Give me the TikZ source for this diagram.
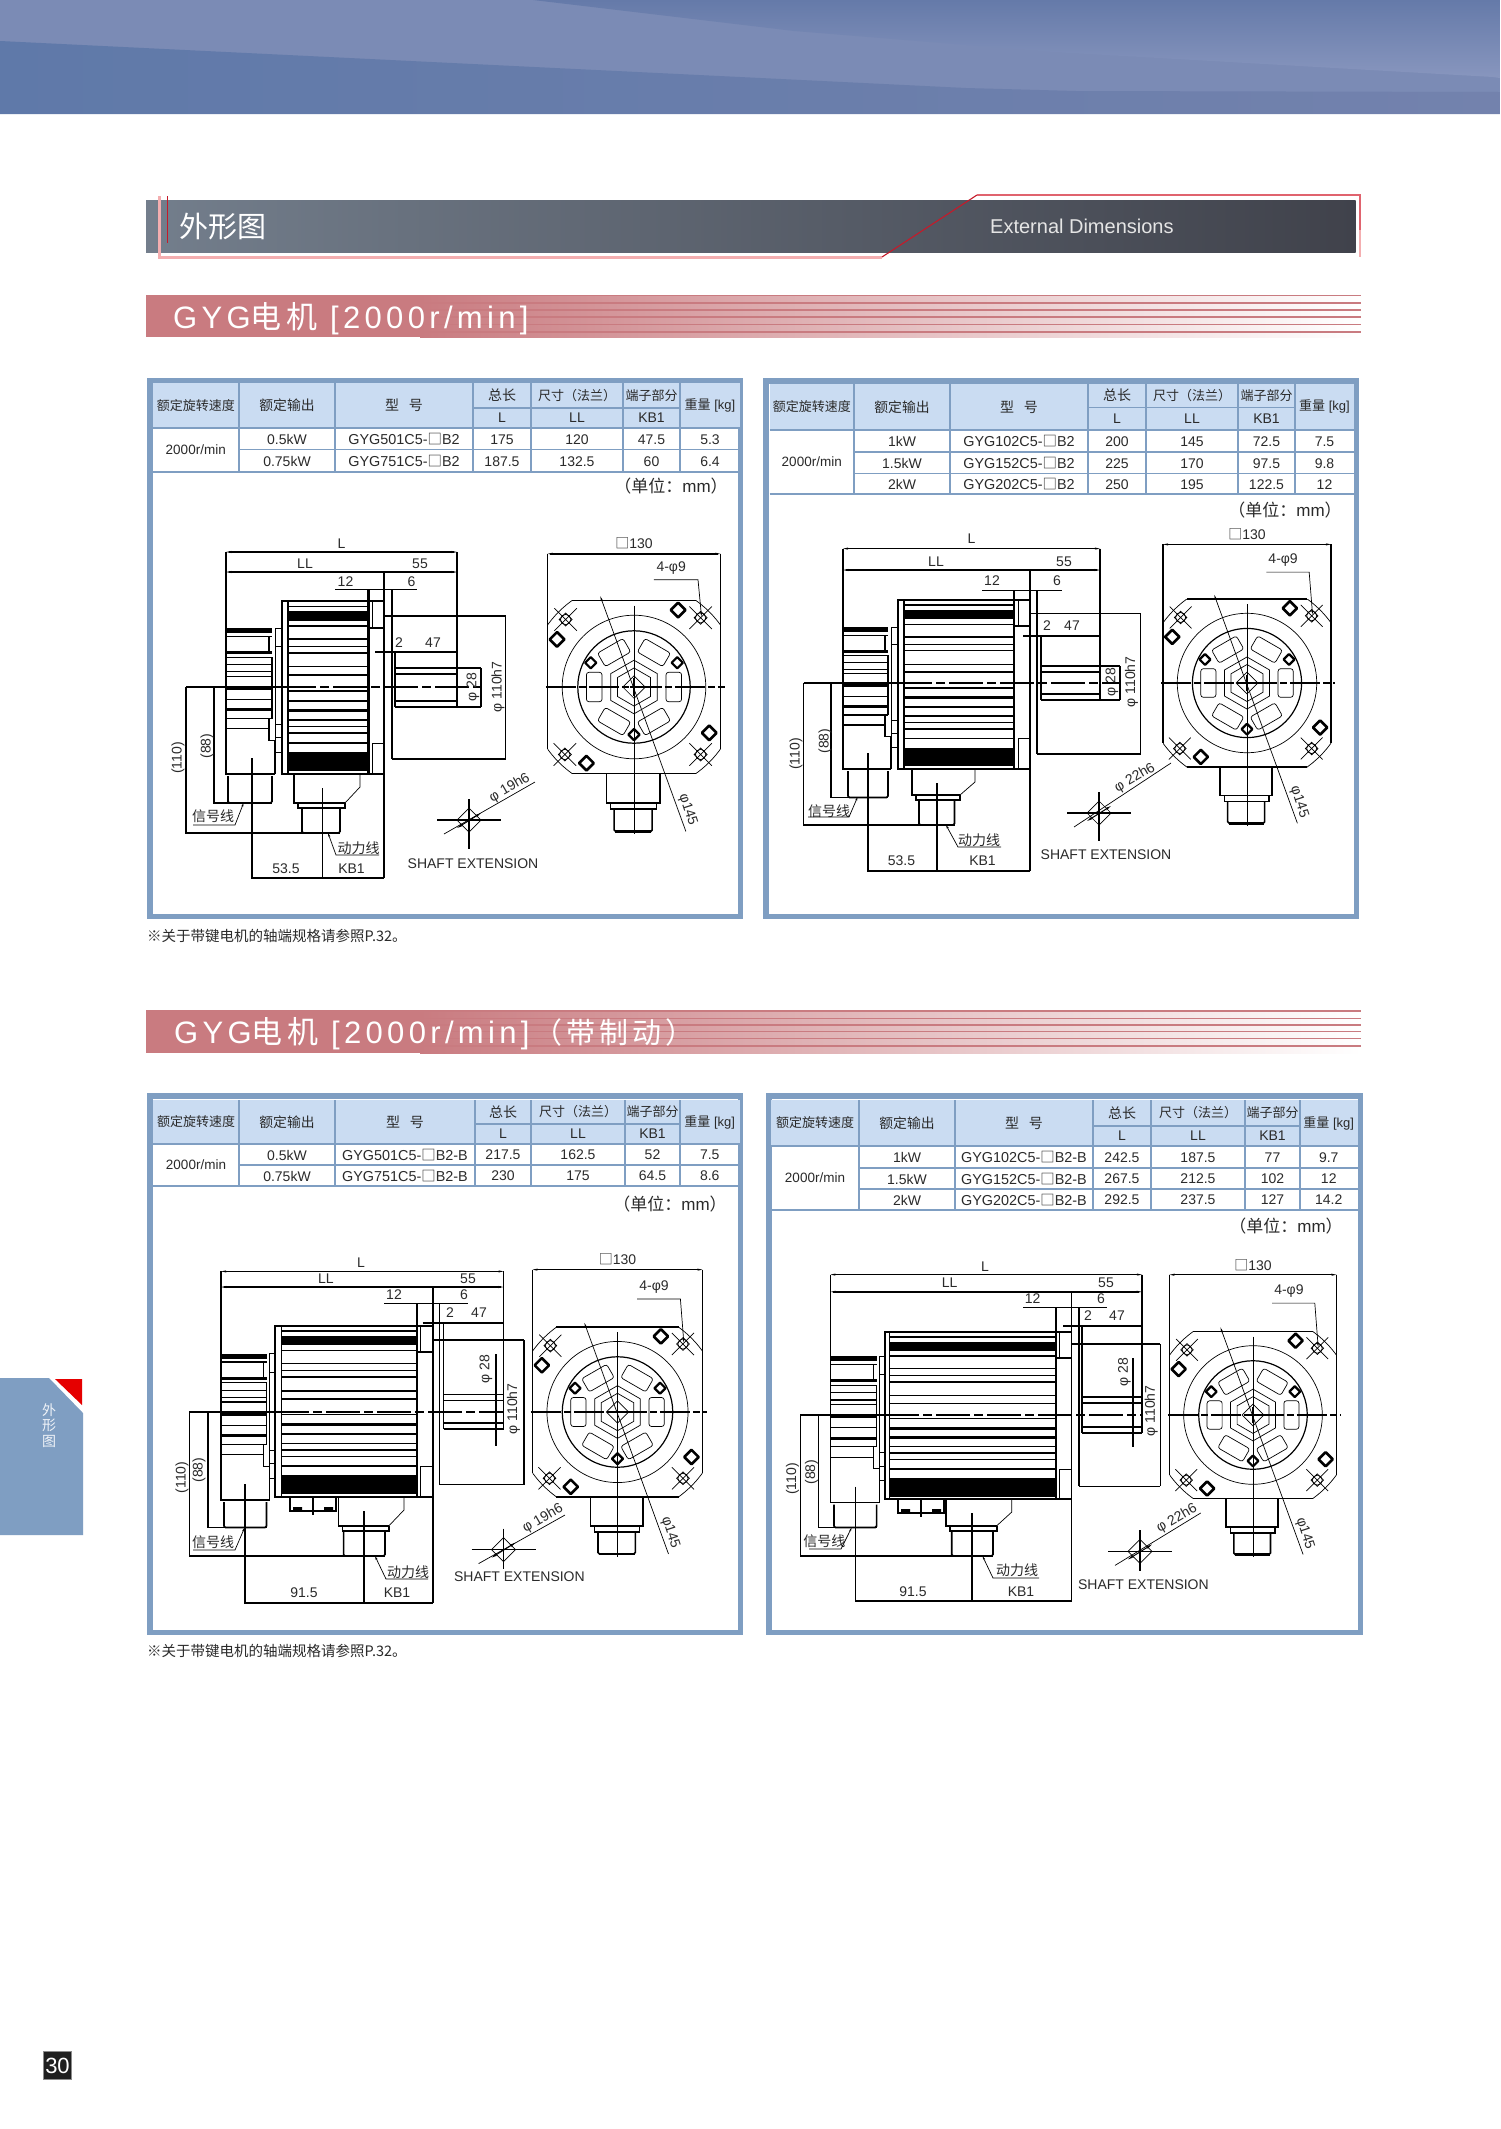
\documentclass[tikz,border=0pt]{standalone}
\usepackage{fontspec}
\setmainfont{Liberation Sans}
\newfontfamily\cjk{Noto Sans CJK SC}
\newfontfamily\ssans[LetterSpace=14]{Liberation Sans}
\newfontfamily\scjk[LetterSpace=14]{Noto Sans CJK SC}
\usetikzlibrary{arrows.meta}
\definecolor{frameblue}{HTML}{7F9EC2}
\definecolor{headblue}{HTML}{CADCF2}
\definecolor{ink}{HTML}{2A2A2A}
\definecolor{rosebar}{HTML}{C97B80}
\definecolor{hband}{HTML}{7B8BB5}
\definecolor{hlowa}{HTML}{5F79A9}
\definecolor{hlowb}{HTML}{7382AD}
\definecolor{hupa}{HTML}{657AA9}
\definecolor{hupb}{HTML}{8896BE}
\definecolor{barl}{HTML}{737E8C}
\definecolor{barm}{HTML}{6F7A85}
\definecolor{barr}{HTML}{40424B}
\definecolor{pinkl}{HTML}{F4AEB0}
\definecolor{redl}{HTML}{E0636E}
\definecolor{redd}{HTML}{C51A2A}
\newcounter{tn}
\newcommand\lbl[3][]{\stepcounter{tn}\node[lab,#1] (t\arabic{tn}) at (#2) {#3};}
\tikzset{
 lab/.style={inner sep=0pt,text=ink,font=\fontsize{14}{14}\selectfont},
 hd/.style={font=\fontsize{13}{14}\selectfont},
 thk/.style={line width=1.6pt,black},
 thn/.style={line width=.7pt,black},
 dimline/.style={line width=1.5pt,black,{Stealth[length=5pt,width=2pt]}-{Stealth[length=5pt,width=2pt]}},
 tline/.style={line width=1.5pt,frameblue},
 panel/.style={line width=5.5pt,draw=frameblue,fill=white},
 unit/.style={font=\fontsize{17}{18}\selectfont},
}
\pgfkeys{/m/.cd,
 xa/.store in=\mxa,xb/.store in=\mxb,xc/.store in=\mxc,xd/.store in=\mxd,xe/.store in=\mxe,
 xf/.store in=\mxf,xg/.store in=\mxg,xh/.store in=\mxh,xs/.store in=\mxs,xt/.store in=\mxt,
 xk/.store in=\mxk,xl/.store in=\mxl,xm/.store in=\mxm,xn/.store in=\mxn,xp/.store in=\mxp,
 xq/.store in=\mxq,xr/.store in=\mxr,xu/.store in=\mxu,xv/.store in=\mxv,xw/.store in=\mxw,
 xy/.store in=\mxy,xz/.store in=\mxz,xsr/.store in=\mxsr,xd28/.store in=\mxdt,
 yc/.store in=\myc,yt/.store in=\myt,yb/.store in=\myb,ye/.store in=\mye,yeb/.store in=\myeb,
 yL/.store in=\myL,yLL/.store in=\myLL,y12/.store in=\mytw,y47/.store in=\myfs,
 yst/.store in=\myst,ysb/.store in=\mysb,yqt/.store in=\myqt,yqb/.store in=\myqb,
 ysp/.store in=\mysp,ypb/.store in=\mypb,ypl/.store in=\mypl,yd/.store in=\myd,
 ydt/.store in=\mydt,ydb/.store in=\mydb,
 ca/.store in=\tca,cb/.store in=\tcb,cc/.store in=\tcc,cd/.store in=\tcd,ce/.store in=\tce,
 cf/.store in=\tcf,cg/.store in=\tcg,ch/.store in=\tch,
 ra/.store in=\tra,rb/.store in=\trb,rc/.store in=\trc,rd/.store in=\trd}
% ---------- table ----------
\newcommand\tablehead{%
 \fill[headblue] (\tca,\tra) rectangle (\tch,\trc);
 \foreach \v in {\tcb,\tcc,\tcd,\tce,\tcf,\tcg} {\draw[tline] (\v,\tra) -- (\v,\trd);}
 \draw[tline] (\tcd,\trb) -- (\tcg,\trb);
 \draw[tline] (\tca,\trc) -- (\tch,\trc);
 \draw[tline] (\tca,\trd) -- (\tch,\trd);
 \pgfmathsetmacro\yu{(\tra+\trb)/2}\pgfmathsetmacro\yl{(\trb+\trc)/2}\pgfmathsetmacro\ym{(\tra+\trc)/2}
 \pgfmathsetmacro\xA{(\tca+\tcb)/2}\pgfmathsetmacro\xB{(\tcb+\tcc)/2}\pgfmathsetmacro\xC{(\tcc+\tcd)/2}
 \pgfmathsetmacro\xD{(\tcd+\tce)/2}\pgfmathsetmacro\xE{(\tce+\tcf)/2}\pgfmathsetmacro\xF{(\tcf+\tcg)/2}
 \pgfmathsetmacro\xG{(\tcg+\tch)/2}
 \lbl[hd]{\xA,\ym}{\cjk 额定旋转速度}
 \lbl[hd,font=\fontsize{13.8}{14}\selectfont]{\xB,\ym}{\cjk 额定输出}
 \lbl[hd,font=\fontsize{14}{14}\selectfont]{\xC,\ym}{\cjk 型\hspace{.7em}号}
 \lbl[hd,font=\fontsize{14}{14}\selectfont]{\xD,\yu}{\cjk 总长}
 \lbl[hd]{\xE,\yu}{\cjk 尺寸（法兰）}
 \lbl[hd]{\xF,\yu}{\cjk 端子部分}
 \lbl[hd]{\xG,\ym}{{\cjk 重量} [kg]}
 \lbl{\xD,\yl}{L}\lbl{\xE,\yl}{LL}\lbl{\xF,\yl}{KB1}
 \pgfmathsetmacro\ys{(\trc+\trd)/2}
 \lbl[font=\fontsize{13.5}{14}\selectfont]{\xA,\ys}{2000r/min}
}
\newcommand\trow[8]{% ytop ybot out model L LL KB wt
 \draw[tline] (\tcb,#2) -- (\tch,#2);
 \pgfmathsetmacro\yy{(#1+#2)/2+.5}
 \pgfmathsetmacro\xB{(\tcb+\tcc)/2}\pgfmathsetmacro\xC{(\tcc+\tcd)/2}
 \pgfmathsetmacro\xD{(\tcd+\tce)/2}\pgfmathsetmacro\xE{(\tce+\tcf)/2}\pgfmathsetmacro\xF{(\tcf+\tcg)/2}
 \pgfmathsetmacro\xG{(\tcg+\tch)/2}
 \lbl{\xB,\yy}{#3}\lbl[font=\fontsize{14.4}{14}\selectfont]{\xC,\yy}{#4}\lbl{\xD,\yy}{#5}\lbl{\xE,\yy}{#6}\lbl{\xF,\yy}{#7}\lbl{\xG,\yy}{#8}
}
\newcommand\sqb{{\cjk □}}
% ---------- end view ----------
\newcommand\bolt[2]{\draw[line width=2.6pt,black,rounded corners=.6pt,fill=white] (#1+.085,#2) -- (#1,#2+.085) -- (#1-.085,#2) -- (#1,#2-.085) -- cycle;}
\newcommand\ibolt[2]{\draw[line width=2.2pt,black,rounded corners=.5pt,fill=white] (#1+.065,#2) -- (#1,#2+.065) -- (#1-.065,#2) -- (#1,#2-.065) -- cycle;}
\newcommand\hole[2]{\draw[thn] (#1,#2) circle[radius=.06];
 \draw[thn] (#1-.13,#2-.13) -- (#1+.13,#2+.13) (#1-.13,#2+.13) -- (#1+.13,#2-.13) (#1+.075,#2) -- (#1,#2+.075) -- (#1-.075,#2) -- (#1,#2-.075) -- cycle;}
\newcommand\hexa[1]{\draw[thn] (30:#1) -- (90:#1) -- (150:#1) -- (210:#1) -- (270:#1) -- (330:#1) -- cycle;}
\newcommand\flangeview[5]{%
\begin{scope}[shift={(#1,#2)},x=#3pt,y=-#3pt]
 \begin{scope}\clip (-1,-1) rectangle (1,1);
  \draw[thn] (0,0) circle[radius=1.23];
 \end{scope}
 \draw[thk] (-.72,-1) -- (.72,-1) (-.72,1) -- (.72,1);
 \draw[thk] (-1,#4) -- (-1,.72) (1,#4) -- (1,.72);
 \draw[dimline] (-1,#4) -- (1,#4);
 \draw[thn] (0,0) circle[radius=.83];
 \draw[line width=1.2pt] (0,0) circle[radius=.65];
 \foreach \a in {0,60,120,180,240,300}{
  \draw[thn,rounded corners=2.5pt,rotate=\a] (.37,-.17) -- (.55,-.17) -- (.55,.17) -- (.37,.17) -- cycle;}
 \hexa{.31}\hexa{.22}
 \draw[thn] (.13,0) -- (0,.13) -- (-.13,0) -- (0,-.13) -- cycle;
 \ibolt{-.5}{-.28}\ibolt{.5}{-.28}\ibolt{0}{.55}
 \bolt{.51}{-.89}\bolt{-.89}{-.55}\bolt{.87}{.53}\bolt{-.55}{.88}
 \hole{.77}{-.8}\hole{-.79}{-.78}\hole{-.8}{.78}\hole{.77}{.78}
 \draw[line width=1.5pt,dash pattern=on 30pt off 3pt on 7pt off 3pt] (-1.02,0) -- (1.05,0);
 \draw[thn] (0,-.94) -- (0,1.7);
 \draw[line width=1.5pt] (-.05,0) -- (.05,0) (0,-.1) -- (0,.1);
 \draw[thn,{Stealth[length=5pt,width=2pt]}-] (-.39,-1.05) -- (.6,1.67);
 \draw[thn,-{Stealth[length=4pt,width=2pt]}] (.23,#5) -- (.74,#5) -- (.78,-.82);
 \lbl{.43,#5-.14}{4-φ9}
 \lbl[rotate=-72]{.62,1.42}{φ145}
 \lbl{0,#4-.12}{\sqb130}
 \draw[thk] (-.32,1) -- (-.32,1.34) -- (.3,1.34) -- (.3,1);
 \draw[thk] (-.27,1.34) -- (-.27,1.41) -- (.26,1.41) -- (.26,1.34);
 \draw[thk,rounded corners=1.5pt] (-.23,1.41) -- (-.23,1.67) -- (.21,1.67) -- (.21,1.41);
 \draw[line width=2.6pt] (-.22,1.67) -- (.2,1.67);
\end{scope}}
% ---------- side view ----------
\newcommand\motorside{%
 \pgfmathsetmacro\fh{\myb-\myt}
 \foreach \f in {.03,.144,.22,.263,.3,.38,.427,.52,.687,.725,.763,.82}{
  \pgfmathsetmacro\yy{\myt+\f*\fh}\draw[line width=1.4pt] (\mxd,\yy) -- (\mxe,\yy);}
 \foreach \fa/\fb in {.06/.113,.57/.585,.625/.64,.873/.985}{
  \pgfmathsetmacro\ya{\myt+\fa*\fh}\pgfmathsetmacro\yb{\myt+\fb*\fh}
  \fill[black] (\mxd,\ya) rectangle (\mxe,\yb);}
 \draw[thk] (\mxc,\myt) rectangle (\mxf,\myb);
 \draw[thk] (\mxd,\myt) -- (\mxd,\myb);
 \draw[line width=2.2pt] (\mxe,\mytw) -- (\mxe,\myb);
 \pgfmathsetmacro\fA{\myt+.155*\fh}\pgfmathsetmacro\fB{\myt+.82*\fh}
 \pgfmathsetmacro\fx{\mxe+4}
 \draw[thn] (\fx,\myt) rectangle (\mxf,\fA) (\fx,\fB) rectangle (\mxf,\myb);
 \draw[thk] (\mxe,\fA) -- (\mxf,\fA);
 % encoder
 \pgfmathsetmacro\eh{\myeb-\mye}
 \foreach \fa/\fb in {0/.034,.16/.18,.4/.425,.55/.57}{
  \pgfmathsetmacro\ya{\mye+\fa*\eh}\pgfmathsetmacro\yb{\mye+\fb*\eh}
  \fill[black] (\mxa,\ya) rectangle (\mxb,\yb);}
 \foreach \f in {.057,.2,.25,.3,.33,.49,.62}{
  \pgfmathsetmacro\yy{\mye+\f*\eh}\draw[line width=1.2pt] (\mxa,\yy) -- (\mxb,\yy);}
 \pgfmathsetmacro\ea{\mye+.057*\eh}\pgfmathsetmacro\eb{\mye+.16*\eh}\pgfmathsetmacro\ec{\mye+.2*\eh}
 \pgfmathsetmacro\ed{\mye+.62*\eh}\pgfmathsetmacro\ee{\mye+.69*\eh}\pgfmathsetmacro\ef{\mye+.77*\eh}
 \pgfmathsetmacro\xbm{\mxb-3}\pgfmathsetmacro\xbp{\mxb+3}\pgfmathsetmacro\xam{\mxa+1}
 \draw[thk] (\mxa,\mye) -- (\mxa,\myeb) -- (\xbp,\myeb);
 \draw[line width=1.2pt] (\xbm,\ea) -- (\xbm,\eb);
 \draw[line width=1.2pt] (\mxb,\ec) -- (\mxb,\ed);
 \draw[line width=1.2pt] (\xam,\ee) -- (\xbm,\ee);
 \draw[line width=1.2pt] (\xbm,\ed) -- (\xbm,\ef) -- (\xbp,\ef) -- (\xbp,\myeb);
 \pgfmathsetmacro\ba{\mxb+3}\pgfmathsetmacro\bb{\mye+.125*\eh}
 \draw[thn] (\ba,\mye) rectangle (\mxc,\bb);
 \draw[thn] (\ba,\bb) -- (\ba,\myeb);
 \foreach \f in {.66,.75,.85}{\pgfmathsetmacro\yy{\mye+\f*\eh}\draw[thn] (\ba,\yy) -- (\mxc,\yy);}
 % signal plug
 \pgfmathsetmacro\spa{\myeb+2}
 \draw[thk,rounded corners=1.5pt] (\mxp,\spa) -- (\mxp,\mysp) -- (\mxb,\mysp) -- (\mxb,\spa);
 % power connector
 \pgfmathsetmacro\cha{\mxs-15}\pgfmathsetmacro\chb{\myb+13}\pgfmathsetmacro\fla{\mxr+4}\pgfmathsetmacro\flb{\mypb+5}
 \draw[thk] (\mxr,\myb) -- (\mxr,\mypb) -- (\cha,\mypb);
 \draw[thn] (\cha,\mypb) -- (\mxs,\chb) -- (\mxs,\myb);
 \draw[thk] (\fla,\mypb) -- (\fla,\flb) -- (\cha,\flb) -- (\cha,\mypb);
 \draw[thk,rounded corners=1.5pt] (\mxt,\flb) -- (\mxt,\mypl) -- (\mxu,\mypl) -- (\mxu,\flb);
 \draw[line width=2.6pt] (\mxt,\mypl) -- (\mxu,\mypl);
 % shaft
 \draw[thk] (\mxh,\myst) -- (\mxsr,\myst) (\mxh,\mysb) -- (\mxsr,\mysb);
 \pgfmathsetmacro\sia{\myst+6}\pgfmathsetmacro\sib{\mysb-6}
 \draw[line width=1.1pt] (\mxh,\sia) -- (\mxk,\sia) (\mxh,\sib) -- (\mxk,\sib);
 \draw[thk] (\mxh,\myfs) -- (\mxh,\mysb);
 \draw[thk] (\mxg,\mytw) -- (\mxg,\myqb);
 \draw[thk] (\mxa,\myL) -- (\mxa,\mye);
 \draw[thk] (\mxf,\myLL) -- (\mxf,\myd);
 \draw[thk] (\mxk,\myL) -- (\mxk,\mysb);
 % dims
 \draw[dimline] (\mxa,\myL) -- (\mxk,\myL);
 \draw[dimline] (\mxa,\myLL) -- (\mxk,\myLL);
 \draw[thn] (\mxm,\mytw) -- (\mxn,\mytw);
 \draw[thk] (\mxl,\myfs) -- (\mxk,\myfs);
 \draw[thk] (\mxf,\myqt) -- (\mxy,\myqt);
 \draw[thk] (\mxg,\myqb) -- (\mxy,\myqb);
 \draw[thk] (\mxy,\myqt) -- (\mxy,\myqb);
 \draw[thk] (\mxdt,\mydt) -- (\mxdt,\mydb);
 % centre line
 \draw[thk] (\mxz,\myc) -- (\mxc,\myc);
 \draw[line width=1.7pt,dash pattern=on 34pt off 4pt on 9pt off 4pt] (\mxc,\myc) -- (\mxsr,\myc);
 % (88), (110)
 \draw[thk] (\mxw,\myc) -- (\mxw,\mysp) -- (\mxb,\mysp);
 \draw[thk] (\mxz,\myc) -- (\mxz,\mypl) -- (\mxt,\mypl);
 % bottom dims
 \pgfmathsetmacro\sca{\myeb-16}\pgfmathsetmacro\pca{\myb+14}
 \draw[thk] (\mxq,\sca) -- (\mxq,\myd) -- (\mxf,\myd);
 \draw[thk] (\mxv,\pca) -- (\mxv,\myd);
}
\newcommand\crossmark[5]{% cx cy leader-end down
 \draw[thk] (#1-32,#2) -- (#1+32,#2);
 \draw[thk] (#1,#2-21) -- (#1,#2+#5);
 \draw[thn] (#1+12,#2) -- (#1,#2+12) -- (#1-12,#2) -- (#1,#2-12) -- cycle;
 \draw[line width=1pt,{Stealth[length=6pt,width=2.5pt]}-{Stealth[length=6pt,width=2.5pt]}] (#1-12,#2+8) -- (#1+12,#2-7);
 \draw[thn] (#1-25,#2+14) -- (#3,#4);
}
\newcommand\leaderlbl[8]{% tx ty text x1 x2 y tipx tipy : underline x1--x2, then on to tip
 \lbl[font=\fontsize{14}{14}\selectfont]{#1,#2}{\cjk #3}
 \draw[thn,-{Stealth[length=4pt,width=2pt]}] (#4,#6) -- (#5,#6) -- (#7,#8);
}
\newcommand\secbar[3]{% ytop ybot stripes
 \fill[rosebar] (146,#1) rectangle (420,#2);
 \shade[left color=rosebar,right color=white] (420,#1) rectangle (1361,#2);
 \foreach \yy/\ww in {#3}{\draw[rosebar,line width=\ww pt] (420,\yy) -- (1361,\yy);}
}
\newcommand\secfont{\fontsize{31}{32}\selectfont}
\begin{document}
\begin{tikzpicture}[x=1pt,y=-1pt]
\useasboundingbox (0,0) rectangle (1500,2129);
\fill[white] (0,0) rectangle (1500,2129);
% ---------- header band ----------
\fill[hband] (0,0) rectangle (1500,114);
\shade[left color=hlowa,right color=hlowb] (0,41) -- (966,88) -- (1076,91) -- (1500,92) -- (1500,114) -- (0,114) -- cycle;
\shade[top color=hupa,bottom color=hupb] (533,0) -- (794,31) -- (1053,52) -- (1493,77) -- (1500,78) -- (1500,0) -- cycle;
% ---------- title bar ----------
\shade[left color=barl,middle color=barm,right color=barr] (146,200) rectangle (1355.5,252.7);
\draw[pinkl,line width=3pt] (159,196) -- (159,257) -- (882,257);
\draw[redd,line width=1.3pt] (167.5,196) -- (167.5,243);
\draw[redd,line width=1.1pt] (882,257) -- (977,195);
\draw[redl,line width=2.5pt] (977,195) -- (1360,195) -- (1360,230);
\draw[pinkl,line width=2.5pt] (1360,230) -- (1360,257);
\lbl[text=white,font=\fontsize{29}{30}\selectfont,anchor=west]{179,227}{\cjk 外形图}
\lbl[text=white!90!black,font=\fontsize{20}{22}\selectfont,anchor=west]{990,226}{External Dimensions}
% ---------- section bars ----------
\secbar{295}{337}{295.5/1.3,302.7/2,310/2,316.7/2,324.3/1.3,332/2}
\lbl[text=white,font=\secfont,anchor=west]{173,319}{\ssans GYG{\scjk 电机} [2000r/min]}
\secbar{1010}{1053}{1010.8/2,1018.3/1.3,1025/2,1031.7/1.3,1038.3/1.3,1045.7/2}
\lbl[text=white,font=\secfont,anchor=west]{174,1034}{\ssans GYG{\scjk 电机} [2000r/min]\hspace{4pt}{\fontsize{29}{30}\selectfont\scjk（带制动）}}
% ---------- side tab ----------
\fill[frameblue] (0,1378) -- (49,1378) -- (83,1413) -- (83,1535) -- (0,1535) -- cycle;
\fill[red!90!black] (55,1379) -- (82,1379) -- (82,1405) -- cycle;
\foreach \yy/\cc in {1410/外,1425/形,1441/图}{\lbl[text=white!88!frameblue,font=\fontsize{14}{14}\selectfont]{49,\yy}{\cjk \cc}}
% ---------- page number ----------
\draw[fill=black!88,draw=black!45,line width=1.5pt] (43.5,2051.5) rectangle (71.5,2079.5);
\lbl[text=white,font=\fontsize{22}{22}\selectfont]{57.5,2066}{30}
% ---------- panels ----------
\draw[panel] (149.75,380.75) rectangle (740.25,916.25);
\draw[panel] (765.75,380.75) rectangle (1356.25,916.25);
\draw[panel] (149.75,1095.75) rectangle (740.25,1632.25);
\draw[panel] (768.75,1095.75) rectangle (1360.25,1632.25);
% ===== Panel A =====
\pgfkeys{/m/.cd,ca=152.5,cb=239,cc=335,cd=473,ce=531,cf=623,cg=680,ch=740,ra=383,rb=408,rc=428,rd=472}
\tablehead
\trow{428}{449.5}{0.5kW}{GYG501C5-\sqb B2}{175}{120}{47.5}{5.3}
\trow{449.5}{472}{0.75kW}{GYG751C5-\sqb B2}{187.5}{132.5}{60}{6.4}
\lbl[unit]{671,486}{{\cjk （单位：}mm{\cjk ）}}
\pgfkeys{/m/.cd,xa=226,xb=272,xc=282,xd=288,xe=368.5,xf=384,xg=392,xh=395,xk=457,xl=375,xm=335,xn=417,xp=228,xq=252,xr=294,xs=360,xt=302,xu=340,xv=322.6,xw=214,xz=186,xy=505.6,xsr=481,xd28=481,
 yc=687,yt=601,yb=774,ye=628,yeb=774,yL=552,yLL=572,y12=589,y47=652,yst=668,ysb=707,yqt=616,yqb=759,ysp=803,ypb=803,ypl=833,yd=878,ydt=668,ydb=707}
\motorside
\lbl{341.6,544}{L}\lbl{305,564}{LL}\lbl{420,564}{55}\lbl{345.5,582}{12}\lbl{411.5,582}{6}
\lbl{399,643}{2}\lbl{433,643}{47}
\lbl[rotate=90]{473,687}{φ 28}\lbl[rotate=90]{498,687}{φ 110h7}
\lbl[rotate=90]{207,746}{(88)}\lbl[rotate=90]{178,758}{(110)}
\lbl{286,869}{53.5}\lbl{351.5,869}{KB1}
\leaderlbl{213}{816}{信号线}{193}{235}{825}{243.6}{803}
\leaderlbl{358.6}{848}{动力线}{379}{336}{855}{328}{833}
\lbl{473,864}{SHAFT EXTENSION}
\crossmark{469}{820}{535}{782}{29}
\lbl[rotate=30]{509.6,788}{φ 19h6}
\flangeview{634}{687}{86.5}{-1.54}{-1.24}
% ===== Panel B =====
\pgfkeys{/m/.cd,ca=769.5,cb=854,cc=950,cd=1088,ce=1146,cf=1238,cg=1295,ch=1354,ra=383.5,rb=407.5,rc=430,rd=494}
\tablehead
\trow{430}{452}{1kW}{GYG102C5-\sqb B2}{200}{145}{72.5}{7.5}
\trow{452}{473.5}{1.5kW}{GYG152C5-\sqb B2}{225}{170}{97.5}{9.8}
\trow{473.5}{494}{2kW}{GYG202C5-\sqb B2}{250}{195}{122.5}{12}
\lbl[unit]{1285,510}{{\cjk （单位：}mm{\cjk ）}}
\pgfkeys{/m/.cd,xa=843,xb=888,xc=898,xd=904,xe=1014,xf=1030,xg=1037,xh=1041,xk=1100,xl=1023,xm=982,xn=1062,xp=848,xq=868,xr=912,xs=975,xt=919,xu=954.5,xv=936.7,xw=831,xz=803.5,xy=1140.6,xsr=1120,xd28=1120,
 yc=683,yt=600,yb=769,ye=627,yeb=769,yL=548.6,yLL=570,y12=590,y47=636,yst=666,ysb=700,yqt=613.6,yqb=754,ysp=797.5,ypb=795,ypl=825,yd=871,ydt=666,ydb=700}
\motorside
\lbl{971.5,539}{L}\lbl{936,562}{LL}\lbl{1064,562}{55}\lbl{992,581}{12}\lbl{1057,581}{6}
\lbl{1047,626}{2}\lbl{1072,626}{47}
\lbl[rotate=90]{1112,682}{φ 28}\lbl[rotate=90]{1131.5,682}{φ 110h7}
\lbl[rotate=90]{825,741}{(88)}\lbl[rotate=90]{796,754}{(110)}
\lbl{901.5,861}{53.5}\lbl{982.5,861}{KB1}
\leaderlbl{829}{811}{信号线}{808}{849}{817}{857.6}{797}
\leaderlbl{979}{840}{动力线}{1001}{958}{847}{946}{825}
\lbl{1106,855}{SHAFT EXTENSION}
\crossmark{1099}{813}{1171}{763}{28}
\lbl[rotate=30]{1135,778}{φ 22h6}
\flangeview{1247}{683}{84}{-1.65}{-1.32}
% ===== Panel C =====
\pgfkeys{/m/.cd,ca=153,cb=239,cc=335,cd=475,ce=531,cf=625,cg=680,ch=739.5,ra=1100,rb=1124,rc=1144,rd=1186}
\tablehead
\trow{1144}{1165}{0.5kW}{GYG501C5-\sqb B2-B}{217.5}{162.5}{52}{7.5}
\trow{1165}{1186}{0.75kW}{GYG751C5-\sqb B2-B}{230}{175}{64.5}{8.6}
\lbl[unit]{670,1204}{{\cjk （单位：}mm{\cjk ）}}
\pgfkeys{/m/.cd,xa=221,xb=266.5,xc=275,xd=281.5,xe=416.7,xf=433,xg=439.6,xh=443.6,xk=503.6,xl=422.6,xm=384,xn=468,xp=224,xq=244.7,xr=338.4,xs=404,xt=343.6,xu=385,xv=364,xw=208,xz=189.4,xy=524,xsr=503.6,xd28=495.7,
 yc=1412,yt=1325.7,yb=1497,ye=1353.6,yeb=1500,yL=1271.4,yLL=1287,y12=1303,y47=1323,yst=1394.6,ysb=1429,yqt=1340,yqb=1484.6,ysp=1527.5,ypb=1525.7,ypl=1556,yd=1603,ydt=1354,ydb=1446}
\motorside
\draw[thk] (290,1497) -- (290,1511) -- (336,1511) -- (336,1497);
\draw[thk] (313,1497) -- (313,1515);
\fill[black] (293,1507) rectangle (302,1511) (324,1507) rectangle (333,1511);
\lbl{361,1262.5}{L}\lbl{325.8,1279}{LL}\lbl{468,1279}{55}\lbl{394,1295}{12}\lbl{464,1295}{6}
\lbl{450,1312.5}{2}\lbl{479,1312.5}{47}
\lbl[rotate=90]{486,1369}{φ 28}\lbl[rotate=90]{513.5,1409}{φ 110h7}
\lbl[rotate=90]{199,1470}{(88)}\lbl[rotate=90]{182,1477.5}{(110)}
\lbl{304,1593}{91.5}\lbl{397,1593}{KB1}
\leaderlbl{213}{1542}{信号线}{193}{235}{1550}{244.7}{1527.5}
\leaderlbl{408}{1572}{动力线}{428}{386}{1579}{375}{1556}
\lbl{519.4,1577}{SHAFT EXTENSION}
\crossmark{503.6}{1549.6}{565}{1515}{19}
\lbl[rotate=30]{543,1518.6}{φ 19h6}
\flangeview{617.5}{1412}{85}{-1.675}{-1.33}
% ===== Panel D =====
\pgfkeys{/m/.cd,ca=771,cb=859,cc=955,cd=1093,ce=1151,cf=1245,cg=1300,ch=1357.5,ra=1100,rb=1126,rc=1146,rd=1210}
\tablehead
\trow{1146}{1168}{1kW}{GYG102C5-\sqb B2-B}{242.5}{187.5}{77}{9.7}
\trow{1168}{1189}{1.5kW}{GYG152C5-\sqb B2-B}{267.5}{212.5}{102}{12}
\trow{1189}{1210}{2kW}{GYG202C5-\sqb B2-B}{292.5}{237.5}{127}{14.2}
\lbl[unit]{1286,1226}{{\cjk （单位：}mm{\cjk ）}}
\pgfkeys{/m/.cd,xa=830.4,xb=876.6,xc=885,xd=889.6,xe=1055.6,xf=1071.5,xg=1079,xh=1082,xk=1142,xl=1063,xm=1023,xn=1107,xp=834,xq=855.6,xr=945.8,xs=1011.8,xt=951.7,xu=993,xv=972,xw=818.5,xz=800.3,xy=1160.4,xsr=1142,xd28=1132.7,
 yc=1415,yt=1331.8,yb=1499,ye=1356,yeb=1502.5,yL=1274.6,yLL=1291.8,y12=1307,y47=1325.7,yst=1397,ysb=1433,yqt=1344,yqb=1486.4,ysp=1527.5,ypb=1525.7,ypl=1556,yd=1600.7,ydt=1358,ydb=1447}
\motorside
\draw[thk] (898,1499) -- (898,1513) -- (944,1513) -- (944,1499);
\draw[thk] (921,1499) -- (921,1517);
\fill[black] (901,1509) rectangle (910,1513) (932,1509) rectangle (941,1513);
\lbl{985,1267}{L}\lbl{949.7,1283}{LL}\lbl{1106,1283}{55}\lbl{1032.7,1299}{12}\lbl{1101,1299}{6}
\lbl{1088,1316}{2}\lbl{1117,1316}{47}
\lbl[rotate=90]{1124.4,1372}{φ 28}\lbl[rotate=90]{1151.3,1411}{φ 110h7}
\lbl[rotate=90]{811.4,1472}{(88)}\lbl[rotate=90]{792.4,1479}{(110)}
\lbl{913,1592}{91.5}\lbl{1021,1592}{KB1}
\leaderlbl{824.4}{1541}{信号线}{809}{841}{1549}{851.7}{1527.5}
\leaderlbl{1017}{1570}{动力线}{1039}{993}{1578}{982.5}{1556}
\lbl{1143.4,1585}{SHAFT EXTENSION}
\crossmark{1140}{1551.4}{1200.7}{1513}{20}
\lbl[rotate=30]{1177,1518.6}{φ 22h6}
\flangeview{1253}{1415}{83.5}{-1.68}{-1.34}
% ---------- notes ----------
\lbl[anchor=west,font=\fontsize{14.5}{15}\selectfont]{147,936}{\cjk ※关于带键电机的轴端规格请参照P.32。}
\lbl[anchor=west,font=\fontsize{14.5}{15}\selectfont]{147,1651}{\cjk ※关于带键电机的轴端规格请参照P.32。}
\end{tikzpicture}
\end{document}
